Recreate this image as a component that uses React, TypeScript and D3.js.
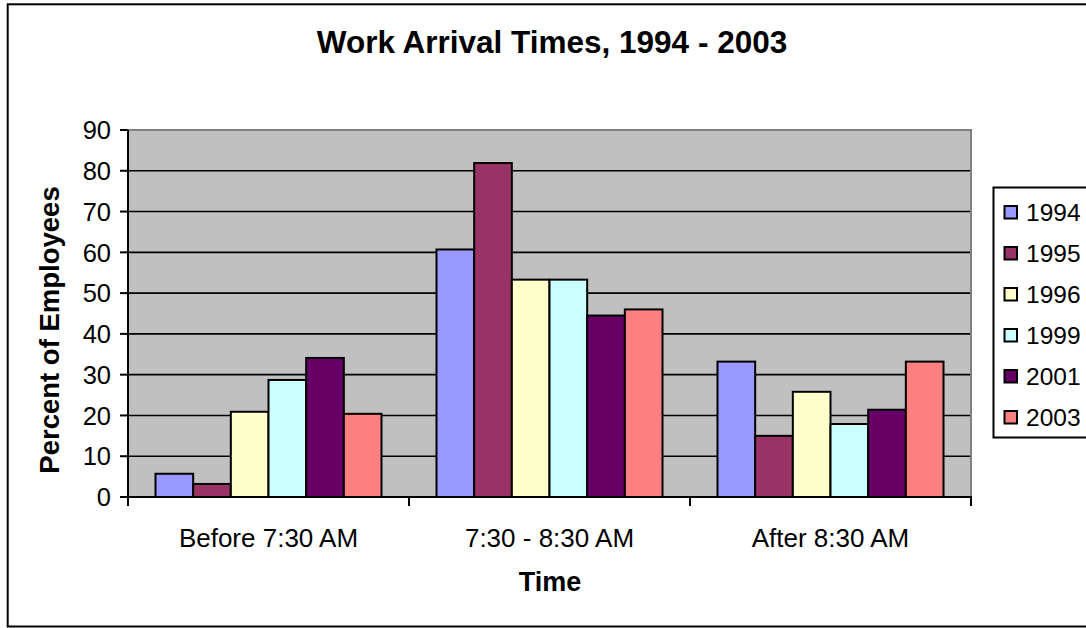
import * as d3 from "d3";
import { useRef, useEffect } from "react";

const categories = ["Before 7:30 AM", "7:30 - 8:30 AM", "After 8:30 AM"];
const years = ["1994", "1995", "1996", "1999", "2001", "2003"];
const colours = ["#9999FF", "#993366", "#FFFFCC", "#CCFFFF", "#660066", "#FF8080"];

// percent of employees, one array per year (before / between / after)
const v1994 = [5.7, 60.7, 33.2];
const v1995 = [3.2, 81.9, 15.0];
const v1996 = [20.9, 53.3, 25.8];
const v1999 = [28.7, 53.3, 17.9];
const v2001 = [34.1, 44.5, 21.4];
const v2003 = [20.4, 46.0, 33.2];
const seriesValues = [v1994, v1995, v1996, v1999, v2001, v2003];

const yTicks = [0, 10, 20, 30, 40, 50, 60, 70, 80, 90];

function App() {
  const chartRef = useRef(null);
  const width = 1086;
  const height = 628;

  useEffect(() => {
    const svg = d3.select(chartRef.current);
    svg.selectAll("*").remove();

    const plot = { left: 128, right: 971, top: 130, bottom: 497 };
    const font = "Arial, 'Liberation Sans', sans-serif";

    // outer chart frame (right side runs off the picture)
    svg
      .append("rect")
      .attr("x", 7.7)
      .attr("y", 4.3)
      .attr("width", 1200)
      .attr("height", 622.2)
      .attr("fill", "#fff")
      .attr("stroke", "#000")
      .attr("stroke-width", 2);

    const x0 = d3
      .scaleBand()
      .domain(categories)
      .range([plot.left, plot.right]);

    const x1 = d3
      .scaleBand()
      .domain(years)
      .range([0, x0.bandwidth()])
      .paddingInner(0)
      .paddingOuter(0.73);

    const y = d3.scaleLinear().domain([0, 90]).range([plot.bottom, plot.top]);

    // plot area
    svg
      .append("rect")
      .attr("x", plot.left)
      .attr("y", plot.top)
      .attr("width", plot.right - plot.left)
      .attr("height", plot.bottom - plot.top)
      .attr("fill", "#C0C0C0");

    svg
      .append("path")
      .attr("d", `M${plot.left},${plot.top}H${plot.right}V${plot.bottom}`)
      .attr("fill", "none")
      .attr("stroke", "#808080")
      .attr("stroke-width", 2);

    // gridlines
    svg
      .append("g")
      .selectAll("line")
      .data(yTicks.filter((t) => t > 0 && t < 90))
      .join("line")
      .attr("x1", plot.left)
      .attr("x2", plot.right - 1)
      .attr("y1", (d) => y(d))
      .attr("y2", (d) => y(d))
      .attr("stroke", "#000")
      .attr("stroke-width", 1.6);

    // bars
    const groups = svg
      .append("g")
      .selectAll("g")
      .data(years)
      .join("g")
      .attr("fill", (d, i) => colours[i]);

    groups
      .selectAll("rect")
      .data((d, i) => seriesValues[i].map((v, j) => ({ year: d, cat: categories[j], v })))
      .join("rect")
      .attr("x", (d) => x0(d.cat) + x1(d.year))
      .attr("y", (d) => y(d.v))
      .attr("width", x1.bandwidth())
      .attr("height", (d) => y(0) - y(d.v))
      .attr("stroke", "#000")
      .attr("stroke-width", 2);

    // y axis
    const yAxis = svg.append("g");
    yAxis
      .append("line")
      .attr("x1", plot.left)
      .attr("x2", plot.left)
      .attr("y1", plot.top)
      .attr("y2", plot.bottom + 1)
      .attr("stroke", "#000")
      .attr("stroke-width", 2);
    yAxis
      .selectAll(".tick")
      .data(yTicks)
      .join("line")
      .attr("x1", plot.left - 8)
      .attr("x2", plot.left)
      .attr("y1", (d) => y(d))
      .attr("y2", (d) => y(d))
      .attr("stroke", "#000")
      .attr("stroke-width", 2);
    yAxis
      .selectAll("text")
      .data(yTicks)
      .join("text")
      .attr("x", 111)
      .attr("y", (d) => y(d))
      .attr("dy", "0.36em")
      .attr("text-anchor", "end")
      .attr("font-family", font)
      .attr("font-size", 25.5)
      .text((d) => d);

    // x axis
    const xAxis = svg.append("g");
    xAxis
      .append("line")
      .attr("x1", plot.left - 1)
      .attr("x2", plot.right + 1)
      .attr("y1", plot.bottom)
      .attr("y2", plot.bottom)
      .attr("stroke", "#000")
      .attr("stroke-width", 2);
    xAxis
      .selectAll(".tick")
      .data([...categories.map((c) => x0(c)), plot.right])
      .join("line")
      .attr("x1", (d) => d)
      .attr("x2", (d) => d)
      .attr("y1", plot.bottom)
      .attr("y2", plot.bottom + 9)
      .attr("stroke", "#000")
      .attr("stroke-width", 2);
    xAxis
      .selectAll("text")
      .data(categories)
      .join("text")
      .attr("x", (d) => x0(d) + x0.bandwidth() / 2)
      .attr("y", 547)
      .attr("text-anchor", "middle")
      .attr("font-family", font)
      .attr("font-size", 26)
      .text((d) => d);

    // titles
    svg
      .append("text")
      .attr("x", 552)
      .attr("y", 53)
      .attr("text-anchor", "middle")
      .attr("font-family", font)
      .attr("font-weight", "bold")
      .attr("font-size", 31.5)
      .text("Work Arrival Times, 1994 - 2003");

    svg
      .append("text")
      .attr("x", 550)
      .attr("y", 591)
      .attr("text-anchor", "middle")
      .attr("font-family", font)
      .attr("font-weight", "bold")
      .attr("font-size", 27)
      .text("Time");

    svg
      .append("text")
      .attr("transform", "translate(59,330) rotate(-90)")
      .attr("text-anchor", "middle")
      .attr("font-family", font)
      .attr("font-weight", "bold")
      .attr("font-size", 27.5)
      .text("Percent of Employees");

    // legend
    const legend = svg.append("g");
    legend
      .append("rect")
      .attr("x", 993.5)
      .attr("y", 187.5)
      .attr("width", 200)
      .attr("height", 250)
      .attr("fill", "#fff")
      .attr("stroke", "#000")
      .attr("stroke-width", 2);

    const rowY = d3.scalePoint().domain(years).range([212, 417]);
    const rows = legend
      .selectAll("g")
      .data(years)
      .join("g")
      .attr("transform", (d) => `translate(0,${rowY(d)})`);
    rows
      .append("rect")
      .attr("x", 1004.5)
      .attr("y", -6)
      .attr("width", 12.5)
      .attr("height", 12.5)
      .attr("fill", (d, i) => colours[i])
      .attr("stroke", "#000")
      .attr("stroke-width", 2);
    rows
      .append("text")
      .attr("x", 1026)
      .attr("dy", "0.36em")
      .attr("font-family", font)
      .attr("font-size", 24.5)
      .text((d) => d);
  }, []);

  return (
    <svg
      ref={chartRef}
      width={width}
      height={height}
      viewBox={`0 0 ${width} ${height}`}
      style={{ position: "absolute", left: 0, top: 0, background: "#fff" }}
    >
      <title>Work arrival times bar chart</title>
    </svg>
  );
}

export default App;
